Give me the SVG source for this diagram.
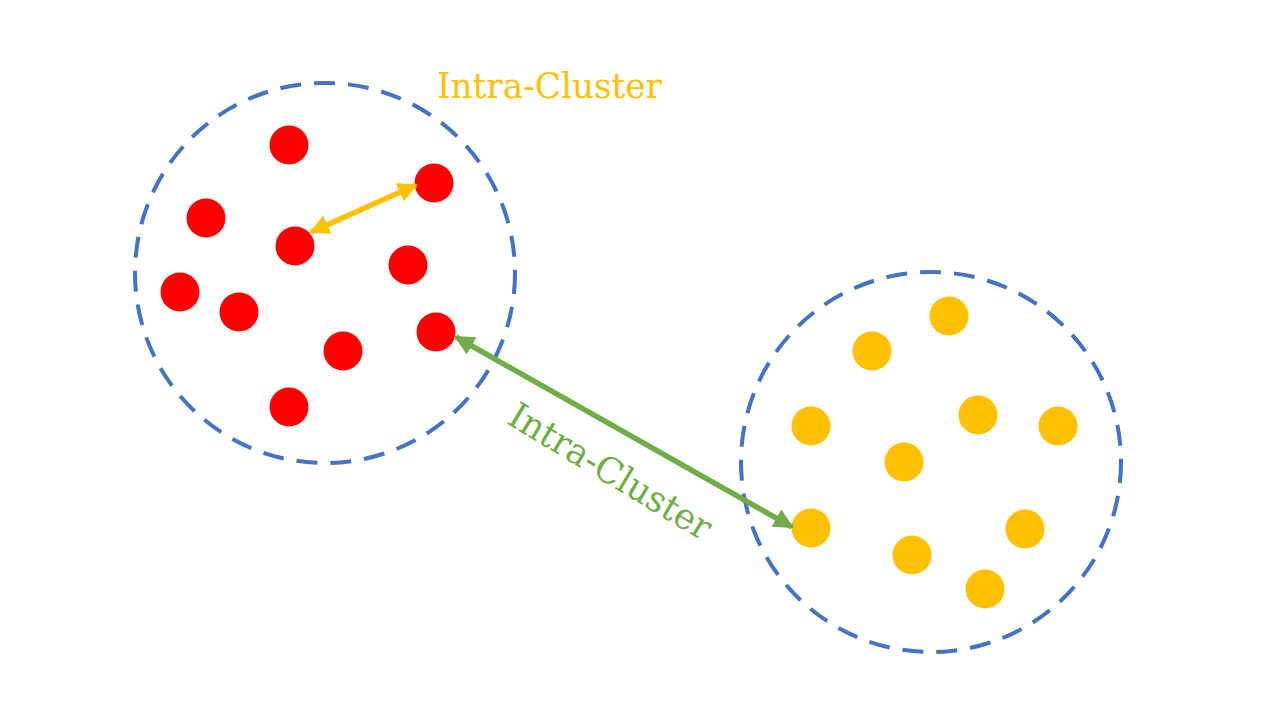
<svg xmlns="http://www.w3.org/2000/svg" width="1280" height="720" viewBox="0 0 1280 720">
<style>
.cl{fill:none;stroke:#4472C4;stroke-width:4;stroke-dasharray:21 13}
.r{fill:#FF0000}
.y{fill:#FFC000}
.lbl{font-family:"DejaVu Serif","Liberation Serif",serif;font-size:36px}
</style>
<defs>
<marker id="ay" viewBox="0 0 10 10" refX="9" refY="5" markerWidth="4" markerHeight="3.6" orient="auto-start-reverse" markerUnits="strokeWidth"><path d="M0,0L10,5L0,10Z" fill="#FFC000"/></marker>
<marker id="ag" viewBox="0 0 10 10" refX="9" refY="5" markerWidth="4" markerHeight="3.6" orient="auto-start-reverse" markerUnits="strokeWidth"><path d="M0,0L10,5L0,10Z" fill="#70AD47"/></marker>
</defs>
<rect width="1280" height="720" fill="#fff"/>
<g id="cluster-red">
<circle class="cl" cx="325" cy="273" r="190"/>
<circle class="r" cx="289" cy="145" r="19.5"/>
<circle class="r" cx="434" cy="183" r="19.5"/>
<circle class="r" cx="206" cy="218" r="19.5"/>
<circle class="r" cx="295" cy="246" r="19.5"/>
<circle class="r" cx="408" cy="265" r="19.5"/>
<circle class="r" cx="180" cy="292" r="19.5"/>
<circle class="r" cx="239" cy="312" r="19.5"/>
<circle class="r" cx="436" cy="332" r="19.5"/>
<circle class="r" cx="343" cy="351" r="19.5"/>
<circle class="r" cx="289" cy="407" r="19.5"/>
</g>
<g id="cluster-yellow">
<circle class="cl" cx="931" cy="462" r="190"/>
<circle class="y" cx="949" cy="316" r="19.5"/>
<circle class="y" cx="872" cy="351" r="19.5"/>
<circle class="y" cx="811" cy="426" r="19.5"/>
<circle class="y" cx="978" cy="415" r="19.5"/>
<circle class="y" cx="1058" cy="426" r="19.5"/>
<circle class="y" cx="904" cy="462" r="19.5"/>
<circle class="y" cx="811" cy="528" r="19.5"/>
<circle class="y" cx="1025" cy="529" r="19.5"/>
<circle class="y" cx="912" cy="555" r="19.5"/>
<circle class="y" cx="985" cy="589" r="19.5"/>
</g>
<g id="connectors">
<line x1="311" y1="232" x2="416" y2="185" stroke="#FFC000" stroke-width="5.5" marker-start="url(#ay)" marker-end="url(#ay)"/>
<line x1="456" y1="337" x2="792" y2="527" stroke="#70AD47" stroke-width="5.5" marker-start="url(#ag)" marker-end="url(#ag)"/>
</g>
<g id="labels">
<text class="lbl" x="437" y="98" fill="#FFC000" textLength="225" lengthAdjust="spacingAndGlyphs">Intra-Cluster</text>
<text class="lbl" x="0" y="0" fill="#70AD47" text-anchor="middle" textLength="230" lengthAdjust="spacingAndGlyphs" transform="translate(604,482) rotate(31)">Intra-Cluster</text>
</g>
</svg>
